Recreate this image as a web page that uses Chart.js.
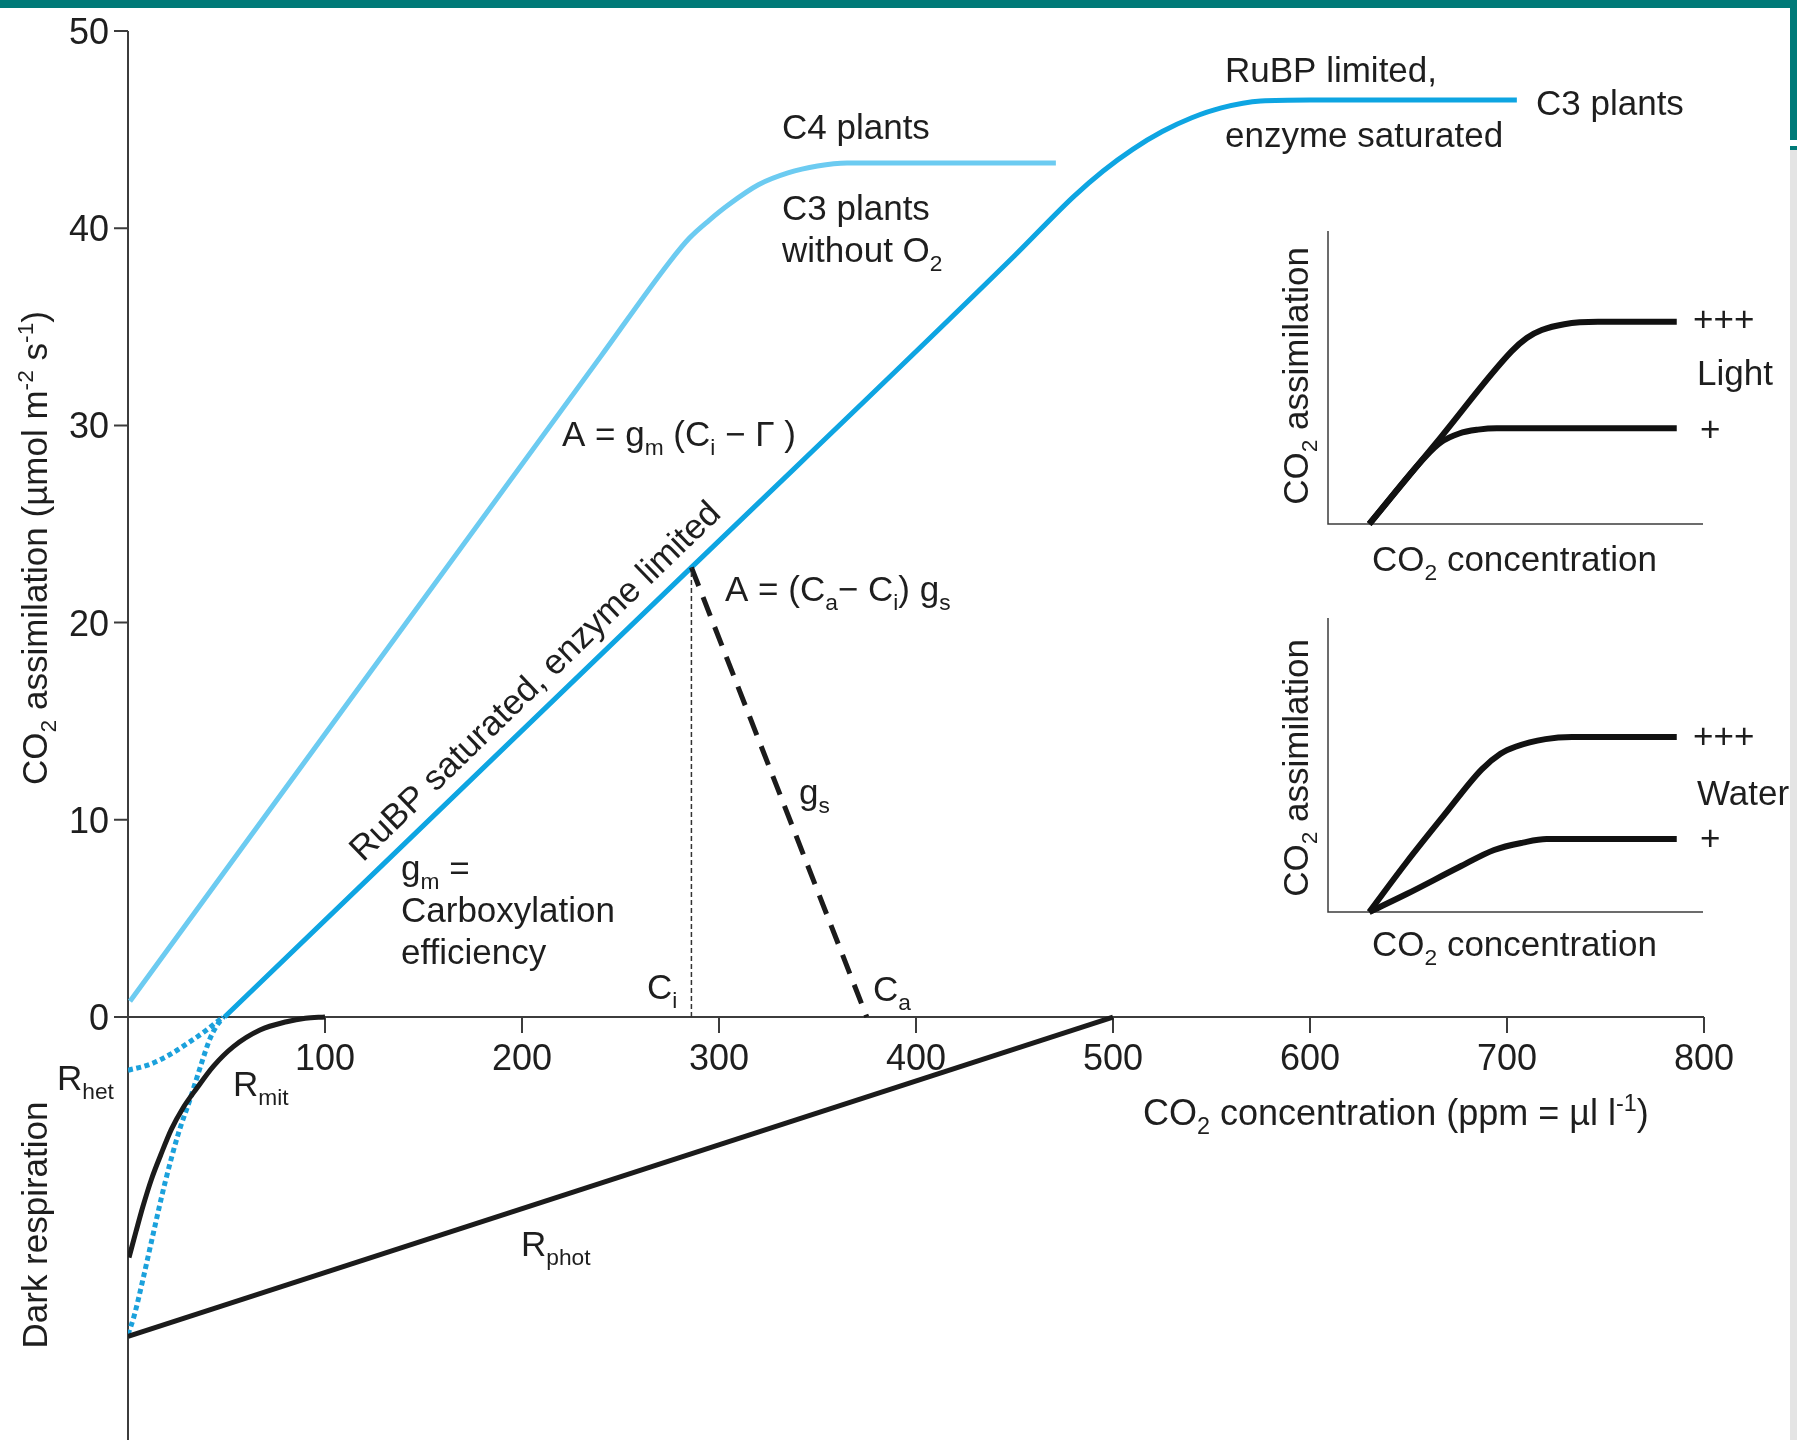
<!DOCTYPE html>
<html>
<head>
<meta charset="utf-8">
<script src="https://cdn.jsdelivr.net/npm/chart.js@4.4.0/dist/chart.umd.min.js"></script>
<style>
  html, body { margin: 0; padding: 0; background: #fff; }
  #wrap { position: relative; width: 1797px; height: 1440px; overflow: hidden; }
  #main { position: absolute; left: 0; top: 0; }
  #light { position: absolute; left: 1300px; top: 200px; }
  #water { position: absolute; left: 1300px; top: 590px; }
  .band { position: absolute; background: #007a78; }
</style>
</head>
<body>
<div id="wrap">
  <canvas id="main" width="1797" height="1440"></canvas>
  <canvas id="light" width="440" height="360"></canvas>
  <canvas id="water" width="440" height="360"></canvas>
  <div class="band" style="left:0;top:0;width:1797px;height:8px"></div>
  <div class="band" style="left:1790px;top:0;width:7px;height:140px"></div>
  <div class="band" style="left:1790px;top:146px;width:7px;height:4px"></div>
  <div style="position:absolute;left:1790px;top:150px;width:7px;height:1290px;background:#e4e4e4"></div>
</div>
<script>
// main figure values, [CO2 ppm, µmol m-2 s-1]
var xTicks = [100, 200, 300, 400, 500, 600, 700, 800];
var yTicks = [0, 10, 20, 30, 40, 50];

var c4Curve = [[1, 0.8], [240, 33.5], [275, 38.3], [285, 39.5], [295, 40.4], [305, 41.2], [320, 42.2],
               [335, 42.8], [350, 43.15], [365, 43.3], [471, 43.3]];
var c3Curve = [[49, 0], [286, 22.8], [450, 38.6], [480, 41.6], [495, 42.9], [510, 44.0],
               [525, 44.9], [540, 45.6], [555, 46.1], [575, 46.45], [600, 46.5], [705, 46.5]];
var photoResp = [[0, -16.1], [3, -15.2], [7.6, -13.3], [12.1, -11.3], [18.8, -8.4], [25.6, -5.9],
                 [31.4, -4.2], [36.5, -2.6], [41.6, -1.1], [45, -0.45], [48.5, 0]];
var rHet = [[0, -2.7], [11.2, -2.4], [21.3, -1.9], [31.5, -1.25], [39.9, -0.66], [45, -0.25], [48.5, 0]];
var rMit = [[0.5, -12.2], [4, -10.9], [7.6, -9.6], [12, -8.2], [16.6, -7.0], [22, -5.7], [28, -4.6],
            [35, -3.6], [43.3, -2.5], [53.5, -1.5], [67, -0.66], [80.5, -0.24], [90, -0.06], [100, 0]];
var rPhot = [[0, -16.2], [500, 0]];
var gsLine = [[286, 22.8], [375, 0]];
var ciLine = [[286, 0], [286, 22.8]];

// insets, relative units 0-100
var lightHigh = [[11, 0], [30, 29.5], [49, 59], [53, 63.5], [57, 66.2], [63, 68.2], [72, 69], [93, 69]];
var lightLow = [[11, 0], [26, 23], [30, 27.8], [35, 30.9], [40, 32.2], [45, 32.7], [93, 32.7]];
var waterHigh = [[11, 0], [21, 17], [31, 33], [41, 48.5], [46, 53.8], [50, 56.2], [58, 58.8], [65, 59.5], [93, 59.5]];
var waterLow = [[11, 0], [21.1, 6.2], [35, 15.3], [44.3, 21.1], [52, 23.6], [58.3, 24.8], [93, 24.8]];

var FONT = '"Liberation Sans", Arial, Helvetica, sans-serif';
var INK = '#1e1e1e';

function pts(arr) {
    return arr.map(function (p) { return {x: p[0], y: p[1]}; });
}

function lineSet(arr, color, width, dash, smooth) {
    return {
        data: pts(arr),
        borderColor: color,
        borderWidth: width,
        borderDash: dash || [],
        borderCapStyle: 'butt',
        borderJoinStyle: 'round',
        pointRadius: 0,
        fill: false,
        cubicInterpolationMode: smooth ? 'monotone' : 'default',
        tension: 0
    };
}

// text with _{sub} and ^{sup}
function parseRich(str) {
    var segs = [];
    var re = /([_^])\{([^}]*)\}/g, last = 0, m;
    while ((m = re.exec(str)) !== null) {
        if (m.index > last) segs.push({t: str.slice(last, m.index), k: 'n'});
        segs.push({t: m[2], k: m[1] === '_' ? 'sub' : 'sup'});
        last = re.lastIndex;
    }
    if (last < str.length) segs.push({t: str.slice(last), k: 'n'});
    return segs;
}

function drawRich(ctx, str, x, y, size, align) {
    var segs = parseRich(str);
    var w = 0;
    segs.forEach(function (s) {
        ctx.font = (s.k === 'n' ? size : size * 0.65) + 'px ' + FONT;
        s.w = ctx.measureText(s.t).width;
        w += s.w;
    });
    var cx = x;
    if (align === 'center') cx = x - w / 2;
    if (align === 'right') cx = x - w;
    var base = y + size * 0.36;
    ctx.textBaseline = 'alphabetic';
    ctx.textAlign = 'left';
    segs.forEach(function (s) {
        ctx.font = (s.k === 'n' ? size : size * 0.65) + 'px ' + FONT;
        var dy = s.k === 'sub' ? size * 0.26 : (s.k === 'sup' ? -size * 0.4 : 0);
        ctx.fillText(s.t, cx, base + dy);
        cx += s.w;
    });
}

function drawRotated(ctx, str, cx, cy, deg, size) {
    ctx.save();
    ctx.translate(cx, cy);
    ctx.rotate(deg * Math.PI / 180);
    drawRich(ctx, str, 0, 0, size, 'center');
    ctx.restore();
}

var labels = [
    ['C4 plants', 782, 126],
    ['C3 plants', 782, 207],
    ['without O_{2}', 782, 249],
    ['RuBP limited,', 1225, 69],
    ['enzyme saturated', 1225, 134],
    ['C3 plants', 1536, 102],
    ['A = g_{m} (C_{i} \u2212 \u0393 )', 562, 433],
    ['A = (C_{a}\u2212 C_{i}) g_{s}', 725, 588],
    ['g_{s}', 799, 791],
    ['g_{m} =', 401, 867],
    ['Carboxylation', 401, 909],
    ['efficiency', 401, 951],
    ['C_{i}', 647, 986],
    ['C_{a}', 873, 988],
    ['R_{het}', 57, 1077],
    ['R_{mit}', 233, 1083],
    ['R_{phot}', 521, 1243],
    ['+++', 1693, 318],
    ['Light', 1697, 372],
    ['+', 1700, 428],
    ['CO_{2} concentration', 1372, 558],
    ['+++', 1693, 735],
    ['Water', 1697, 792],
    ['+', 1700, 837],
    ['CO_{2} concentration', 1372, 943]
];

var figurePlugin = {
    id: 'figure',
    beforeDatasetsDraw: function (chart) {
        var ctx = chart.ctx, xs = chart.scales.x, ys = chart.scales.y;
        var x0 = xs.getPixelForValue(0), y0 = ys.getPixelForValue(0);
        ctx.save();
        ctx.strokeStyle = '#3c3c3c';
        ctx.lineWidth = 2;
        ctx.beginPath();
        ctx.moveTo(x0, ys.getPixelForValue(50));
        ctx.lineTo(x0, chart.chartArea.bottom);
        ctx.moveTo(x0 - 14, y0);
        ctx.lineTo(xs.getPixelForValue(800), y0);
        yTicks.forEach(function (v) {
            var py = ys.getPixelForValue(v);
            ctx.moveTo(x0 - 14, py);
            ctx.lineTo(x0, py);
        });
        xTicks.forEach(function (v) {
            var px = xs.getPixelForValue(v);
            ctx.moveTo(px, y0);
            ctx.lineTo(px, y0 + 16);
        });
        ctx.stroke();
        ctx.fillStyle = INK;
        yTicks.forEach(function (v) {
            drawRich(ctx, String(v), x0 - 19, ys.getPixelForValue(v), 36, 'right');
        });
        xTicks.forEach(function (v) {
            drawRich(ctx, String(v), xs.getPixelForValue(v), y0 + 40, 36, 'center');
        });
        ctx.restore();
    },
    afterDatasetsDraw: function (chart) {
        var ctx = chart.ctx;
        ctx.save();
        ctx.fillStyle = INK;
        labels.forEach(function (l) { drawRich(ctx, l[0], l[1], l[2], 35, 'left'); });
        drawRich(ctx, 'CO_{2} concentration (ppm = \u00b5l l^{-1})', 1143, 1112, 36, 'left');
        drawRotated(ctx, 'RuBP saturated, enzyme limited', 534, 680, -44, 35);
        drawRotated(ctx, 'CO_{2} assimilation (\u00b5mol m^{-2} s^{-1})', 34, 548, -90, 35);
        drawRotated(ctx, 'Dark respiration', 34, 1225, -90, 35);
        drawRotated(ctx, 'CO_{2} assimilation', 1295, 376, -90, 35);
        drawRotated(ctx, 'CO_{2} assimilation', 1295, 768, -90, 35);
        ctx.restore();
    }
};

new Chart(document.getElementById('main'), {
    type: 'line',
    data: {
        datasets: [
            lineSet(rPhot, '#1b1b1b', 5),
            lineSet(rMit, '#1b1b1b', 5, null, true),
            lineSet(rHet, '#1ba1dc', 5, [5, 3.5], true),
            lineSet(photoResp, '#1ba1dc', 5, [5, 3.5], true),
            lineSet(ciLine, '#333333', 1.5, [5, 3]),
            lineSet(gsLine, '#1b1b1b', 5, [20, 12]),
            lineSet(c4Curve, '#6ccbf1', 5, null, true),
            lineSet(c3Curve, '#0ea5e2', 5, null, true)
        ]
    },
    options: {
        responsive: false,
        animation: false,
        devicePixelRatio: 1,
        layout: {padding: {left: 128, right: 93, top: 31, bottom: 0}},
        scales: {
            x: {type: 'linear', min: 0, max: 800, display: false},
            y: {type: 'linear', min: -21.45, max: 50, display: false}
        },
        plugins: {legend: {display: false}, tooltip: {enabled: false}},
        elements: {line: {clip: false}}
    },
    plugins: [figurePlugin]
});

var insetAxes = {
    id: 'insetAxes',
    beforeDatasetsDraw: function (chart) {
        var ctx = chart.ctx, xs = chart.scales.x, ys = chart.scales.y;
        ctx.save();
        ctx.strokeStyle = '#3c3c3c';
        ctx.lineWidth = 1.5;
        ctx.beginPath();
        ctx.moveTo(xs.getPixelForValue(0), ys.getPixelForValue(100));
        ctx.lineTo(xs.getPixelForValue(0), ys.getPixelForValue(0));
        ctx.lineTo(xs.getPixelForValue(100), ys.getPixelForValue(0));
        ctx.stroke();
        ctx.restore();
    }
};

function makeInset(id, high, low, pad) {
    new Chart(document.getElementById(id), {
        type: 'line',
        data: {
            datasets: [
                lineSet(low, '#111111', 6, null, true),
                lineSet(high, '#111111', 6, null, true)
            ]
        },
        options: {
            responsive: false,
            animation: false,
            devicePixelRatio: 1,
            layout: {padding: pad},
            scales: {
                x: {type: 'linear', min: 0, max: 100, display: false},
                y: {type: 'linear', min: 0, max: 100, display: false}
            },
            plugins: {legend: {display: false}, tooltip: {enabled: false}},
            datasets: {line: {clip: false}}
        },
        plugins: [insetAxes]
    });
}

makeInset('light', lightHigh, lightLow, {left: 28, top: 31, right: 37, bottom: 36});
makeInset('water', waterHigh, waterLow, {left: 28, top: 28, right: 37, bottom: 38});
</script>
</body>
</html>
